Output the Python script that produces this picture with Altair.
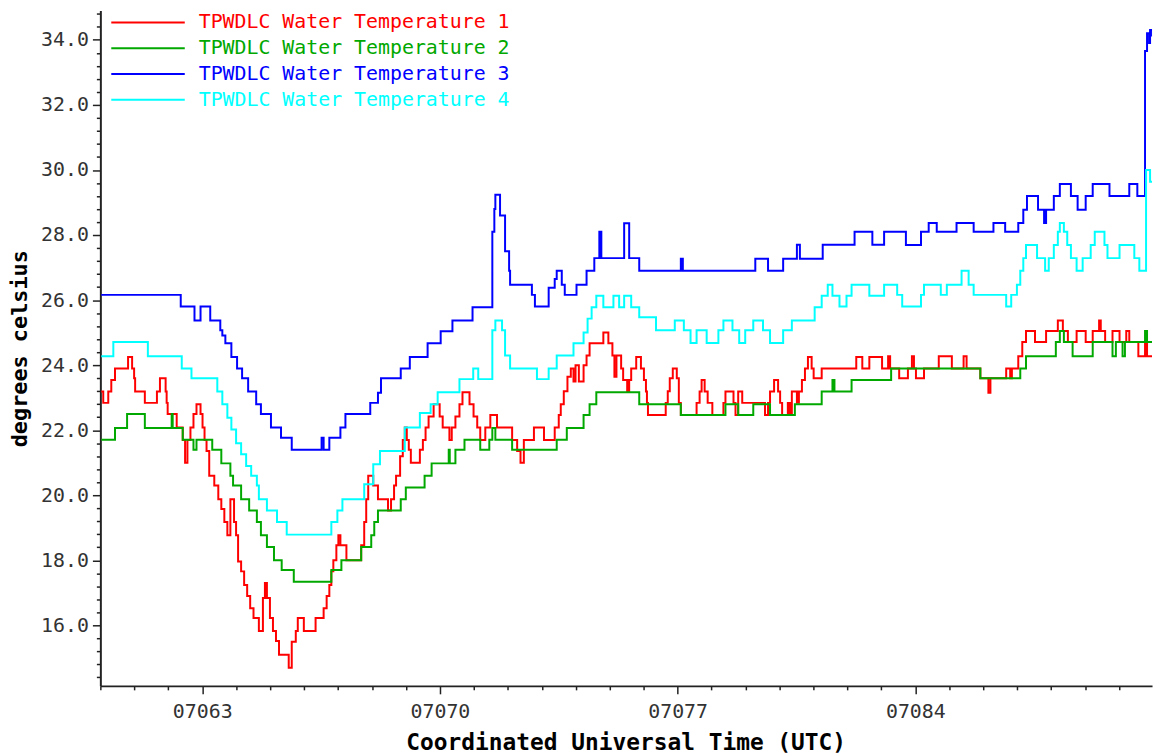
import altair as alt
import pandas as pd

# ---- data (day-of-year 2007, degrees Celsius), step-wise readings ----
names = ["TPWDLC Water Temperature 1", "TPWDLC Water Temperature 2",
         "TPWDLC Water Temperature 3", "TPWDLC Water Temperature 4"]
colors = ["#ff0000", "#00a800", "#0000ff", "#00ffff"]

# times below were read against a provisional day grid; DAY_SCALE / DAY_SHIFT convert to day-of-year
DAY_SCALE = 0.98773
DAY_SHIFT = 0.026

t1_day = [60.00, 60.06, 60.21, 60.30, 60.41, 60.80, 60.92, 60.98, 61.01, 61.30, 61.66, 61.75, 61.92, 61.95,
          61.98, 62.25, 62.43, 62.50, 62.57, 62.66, 62.75, 62.84, 62.96, 63.02, 63.08, 63.14, 63.22, 63.37,
          63.49, 63.58, 63.67, 63.76, 63.85, 63.96, 64.02, 64.08, 64.17, 64.26, 64.35, 64.44, 64.54, 64.70,
          64.82, 64.88, 64.94, 65.03, 65.12, 65.21, 65.30, 65.59, 65.68, 65.80, 65.86, 66.04, 66.39, 66.63,
          66.72, 66.80, 66.86, 66.92, 67.01, 67.07, 67.13, 67.31, 67.75, 67.84, 67.90, 67.96, 68.11, 68.25,
          68.55, 68.64, 68.73, 68.79, 68.91, 68.99, 69.05, 69.11, 69.17, 69.23, 69.50, 69.59, 69.67, 69.76,
          69.91, 70.09, 70.18, 70.38, 70.45, 70.56, 70.68, 70.77, 70.98, 71.10, 71.21, 71.30, 71.45, 71.60,
          71.80, 72.25, 72.40, 72.50, 72.60, 72.90, 73.20, 73.52, 73.64, 73.70, 73.79, 73.90, 74.00, 74.08,
          74.14, 74.24, 74.38, 74.47, 74.56, 74.97, 75.12, 75.24, 75.30, 75.36, 75.50, 75.56, 75.68, 75.74,
          75.80, 75.95, 76.09, 76.18, 76.24, 76.27, 76.30, 76.83, 76.89, 76.95, 77.04, 77.16, 77.22, 77.28,
          77.75, 77.84, 77.90, 77.99, 78.08, 78.22, 78.55, 78.61, 78.85, 78.91, 78.99, 79.11, 79.79, 79.88,
          79.94, 80.06, 80.18, 80.24, 80.30, 80.47, 80.53, 80.59, 80.74, 80.80, 80.89, 80.98, 81.07, 81.18,
          81.24, 81.48, 82.51, 82.69, 82.90, 83.28, 83.46, 83.52, 83.79, 84.05, 84.17, 84.23, 84.29, 84.53,
          84.97, 85.36, 85.71, 85.80, 86.21, 86.45, 86.51, 86.98, 87.10, 87.15, 87.34, 87.46, 87.57, 87.84,
          88.17, 88.52, 88.67, 88.82, 89.08, 89.35, 89.56, 89.75, 89.80, 89.93, 90.15, 90.36, 90.56, 90.65,
          90.92, 91.12, 91.18, 91.33]
t1_val = [23.19, 22.84, 23.19, 23.54, 23.90, 24.25, 23.90, 23.60, 23.19, 22.84, 23.19, 23.60, 23.19, 22.84,
          22.50, 22.08, 21.70, 21.00, 21.70, 22.08, 22.50, 22.80, 22.50, 22.08, 21.70, 21.36, 20.60, 20.30,
          19.88, 19.58, 19.18, 18.77, 19.88, 19.18, 18.77, 17.96, 17.66, 17.24, 16.90, 16.53, 16.23, 15.83,
          16.84, 17.30, 16.84, 16.23, 15.83, 15.52, 15.10, 14.70, 15.50, 15.83, 16.23, 15.83, 16.23, 16.53,
          16.90, 17.24, 17.66, 18.00, 18.46, 18.77, 18.46, 18.00, 18.46, 19.18, 19.88, 20.60, 20.30, 19.88,
          19.53, 19.88, 20.30, 20.60, 21.20, 21.70, 22.08, 21.70, 21.40, 21.00, 21.40, 21.70, 22.08, 22.42,
          22.80, 22.42, 22.08, 21.70, 22.08, 22.42, 22.80, 23.17, 22.80, 22.42, 22.08, 21.70, 22.08, 22.47,
          22.08, 21.70, 21.36, 21.00, 21.70, 22.08, 21.70, 22.08, 22.47, 22.80, 23.20, 23.64, 23.90, 23.50,
          24.00, 23.50, 24.00, 24.30, 24.67, 25.00, 24.67, 24.30, 23.64, 24.30, 23.90, 23.54, 23.19, 23.54,
          23.90, 24.25, 23.90, 23.54, 23.19, 22.84, 22.47, 22.84, 23.20, 23.60, 23.90, 23.60, 22.84, 22.47,
          22.84, 23.19, 23.54, 23.19, 22.84, 22.47, 22.84, 23.19, 22.84, 22.47, 23.19, 22.84, 22.47, 22.84,
          23.19, 23.54, 23.19, 22.84, 22.47, 22.84, 22.47, 23.19, 22.84, 23.19, 23.54, 23.90, 24.25, 23.90,
          23.60, 23.90, 24.25, 23.90, 24.25, 23.90, 24.27, 23.90, 23.60, 23.90, 24.27, 23.90, 23.60, 23.90,
          24.27, 23.90, 24.27, 23.90, 23.60, 23.15, 23.60, 23.90, 23.60, 23.90, 24.27, 24.71, 25.05, 24.71,
          25.05, 25.37, 25.05, 24.71, 25.05, 24.71, 25.05, 25.37, 25.05, 24.71, 25.05, 24.71, 25.05, 24.71,
          24.27, 24.71, 24.27, 24.27]

t2_day = [60.00, 60.41, 60.77, 61.30, 62.10, 62.13, 62.43, 62.75, 62.84, 63.31, 63.58, 63.85, 63.93, 64.17,
          64.41, 64.64, 64.76, 64.94, 65.15, 65.38, 65.74, 66.86, 67.16, 67.75, 68.05, 68.14, 68.25, 68.93,
          69.08, 69.64, 69.85, 70.36, 70.39, 70.56, 70.83, 71.30, 71.57, 71.66, 71.75, 72.25, 73.58, 73.88,
          74.38, 74.56, 74.76, 76.04, 77.28, 78.61, 78.99, 79.44, 79.94, 80.68, 81.48, 81.80, 81.86, 82.37,
          83.55, 86.21, 87.40, 87.57, 88.46, 88.58, 88.70, 88.96, 89.56, 90.15, 90.25, 90.45, 90.52, 91.12,
          91.18, 91.33]
t2_val = [21.71, 22.07, 22.50, 22.07, 22.50, 22.07, 21.71, 21.40, 21.71, 21.40, 20.98, 20.60, 20.30, 19.88,
          19.53, 19.18, 18.77, 18.41, 18.00, 17.70, 17.34, 17.70, 18.00, 18.41, 18.77, 19.18, 19.53, 19.88,
          20.24, 20.60, 20.98, 21.40, 20.98, 21.40, 21.71, 21.40, 21.71, 22.07, 21.71, 21.40, 21.71, 22.07,
          22.47, 22.80, 23.17, 22.80, 22.47, 22.80, 22.47, 22.80, 22.47, 22.80, 23.19, 23.54, 23.19, 23.54,
          23.90, 23.60, 23.90, 24.27, 24.71, 25.05, 24.71, 24.27, 24.71, 24.27, 24.71, 24.27, 24.71, 25.05,
          24.71, 24.71]

t3_day = [60.00, 62.37, 62.78, 62.96, 63.25, 63.55, 63.61, 63.70, 63.88, 64.05, 64.20, 64.38, 64.62, 64.76,
          65.06, 65.36, 65.68, 66.57, 66.63, 66.80, 67.13, 67.28, 68.02, 68.25, 68.34, 68.93, 69.20, 69.73,
          70.12, 70.47, 71.07, 71.66, 71.72, 71.75, 71.89, 72.04, 72.16, 72.19, 72.84, 72.93, 73.34, 73.52,
          73.58, 73.73, 73.82, 74.17, 74.47, 74.70, 74.85, 74.91, 75.59, 75.74, 76.04, 77.28, 77.34, 79.50,
          79.88, 80.33, 80.74, 80.83, 81.51, 82.46, 82.99, 83.34, 83.99, 84.44, 84.67, 84.91, 85.50, 86.01,
          86.60, 86.95, 87.34, 87.49, 87.60, 87.93, 88.11, 88.17, 88.40, 88.58, 88.91, 89.11, 89.35, 89.56,
          90.06, 90.65, 90.89, 91.12, 91.18, 91.24, 91.27, 91.33]
t3_val = [26.16, 25.80, 25.37, 25.80, 25.37, 25.07, 24.91, 24.67, 24.25, 23.90, 23.60, 23.19, 22.80, 22.50,
          22.08, 21.77, 21.40, 21.77, 21.40, 21.77, 22.08, 22.50, 22.84, 23.15, 23.60, 23.90, 24.25, 24.67,
          25.04, 25.37, 25.78, 28.10, 28.80, 29.24, 28.60, 27.50, 26.90, 26.47, 26.16, 25.80, 26.38, 26.65,
          26.90, 26.47, 26.16, 26.47, 26.90, 27.29, 28.10, 27.29, 28.36, 27.29, 26.90, 27.27, 26.90, 27.27,
          26.90, 27.27, 27.70, 27.27, 27.70, 28.10, 27.70, 28.10, 27.69, 28.10, 28.37, 28.10, 28.37, 28.10,
          28.37, 28.10, 28.37, 28.78, 29.20, 28.78, 28.37, 28.78, 29.20, 29.57, 29.20, 28.78, 29.20, 29.57,
          29.20, 29.57, 29.20, 33.66, 34.20, 33.90, 34.30, 34.10]

t4_day = [60.00, 60.36, 61.39, 62.40, 62.69, 63.46, 63.61, 63.76, 63.88, 64.02, 64.17, 64.32, 64.47, 64.64,
          64.70, 64.94, 65.24, 65.53, 66.86, 67.04, 67.19, 67.84, 68.11, 68.31, 69.05, 69.50, 69.82, 70.03,
          70.68, 71.09, 71.24, 71.66, 71.75, 71.95, 72.04, 72.19, 72.99, 73.34, 73.58, 74.08, 74.38, 74.50,
          74.62, 74.76, 74.97, 75.27, 75.44, 75.59, 75.80, 76.04, 76.54, 77.10, 77.37, 77.57, 77.75, 78.05,
          78.40, 78.55, 78.82, 79.02, 79.20, 79.44, 79.73, 79.94, 80.33, 80.59, 81.27, 81.48, 81.66, 81.80,
          82.01, 82.22, 82.37, 82.90, 83.34, 83.73, 83.88, 84.44, 84.53, 85.03, 85.21, 85.65, 85.86, 86.01,
          86.98, 87.13, 87.30, 87.40, 87.49, 87.57, 87.90, 88.14, 88.25, 88.40, 88.52, 88.58, 88.70, 88.80,
          88.91, 89.08, 89.26, 89.50, 89.62, 89.91, 90.00, 90.36, 90.80, 90.95, 91.15, 91.27, 91.33]
t4_val = [24.27, 24.71, 24.27, 23.90, 23.60, 23.19, 22.80, 22.38, 22.02, 21.60, 21.26, 20.90, 20.60, 20.30,
          19.88, 19.53, 19.18, 18.79, 19.18, 19.53, 19.88, 20.34, 20.95, 21.36, 22.08, 22.53, 22.80, 23.17,
          23.57, 23.90, 23.57, 25.07, 25.37, 25.07, 24.30, 23.90, 23.57, 23.90, 24.30, 24.67, 25.00, 25.43,
          25.78, 26.13, 25.78, 26.13, 25.78, 26.13, 25.78, 25.47, 25.07, 25.37, 25.07, 24.68, 25.07, 24.68,
          25.07, 25.37, 25.07, 24.68, 25.07, 25.37, 25.07, 24.68, 25.07, 25.37, 25.78, 26.13, 26.47, 26.13,
          25.80, 26.13, 26.47, 26.13, 26.47, 26.16, 25.80, 26.16, 26.47, 26.16, 26.47, 26.90, 26.47, 26.16,
          25.80, 26.16, 26.47, 26.90, 27.29, 27.69, 27.29, 26.90, 27.29, 27.69, 28.10, 28.37, 28.10, 27.69,
          27.29, 26.90, 27.29, 27.69, 28.10, 27.69, 27.29, 27.69, 27.29, 26.90, 30.00, 29.64, 29.64]

x_ticks = list(range(60, 91))          # daily ticks, labelled every 7 days
y_ticks = [round(14.4 + 0.4 * i, 1) for i in range(52)]

# ---- build table ----
rows = []
for name, days, vals in zip(names, [t1_day, t2_day, t3_day, t4_day], [t1_val, t2_val, t3_val, t4_val]):
    for d, v in zip(days, vals):
        rows.append({"series": name, "day": round(60 + DAY_SHIFT + (d - 60) * DAY_SCALE, 3), "temp": v})
df = pd.DataFrame(rows)
legend_df = pd.DataFrame({"series": names, "idx": list(range(len(names)))})

FONT = "DejaVu Sans Mono"
color_scale = alt.Scale(domain=names, range=colors)

lines = alt.Chart(df).mark_line(interpolate="step-after", strokeWidth=2, clip=True).encode(
    x=alt.X("day:Q",
            scale=alt.Scale(domain=[60, 90.97], nice=False, zero=False),
            axis=alt.Axis(values=x_ticks,
                          labelExpr="datum.value % 7 == 0 ? '070' + datum.value : ''",
                          tickSize={"condition": {"test": "datum.value % 7 == 0", "value": 8}, "value": 4},
                          labelOverlap=False, labelPadding=8,
                          title="Coordinated Universal Time (UTC)",
                          titleX=529, titleY=46, titleAlign="center", titleBaseline="top")),
    y=alt.Y("temp:Q",
            scale=alt.Scale(domain=[14.14, 34.9], nice=False, zero=False),
            axis=alt.Axis(values=y_ticks,
                          labelExpr="round(datum.value*10) % 20 == 0 ? format(datum.value, '.1f') : ''",
                          tickSize={"condition": {"test": "round(datum.value*10) % 20 == 0", "value": 8}, "value": 4},
                          labelOverlap=False, labelPadding=4,
                          title="degrees celsius",
                          titleX=-81, titleY=340, titleAngle=270, titleAlign="center",
                          titleBaseline="middle")),
    color=alt.Color("series:N", scale=color_scale, legend=None),
    detail="series:N",
)

leg_y = alt.Y("idx:Q", scale=alt.Scale(domain=[0, 3], range=[12, 89.7]), axis=None)
leg_rules = alt.Chart(legend_df).mark_rule(strokeWidth=2).encode(
    x=alt.value(11), x2=alt.value(85), y=leg_y,
    color=alt.Color("series:N", scale=color_scale, legend=None),
)
leg_text = alt.Chart(legend_df).mark_text(align="left", baseline="middle", font=FONT, fontSize=20).encode(
    x=alt.value(99), y=leg_y, text="series:N",
    color=alt.Color("series:N", scale=color_scale, legend=None),
)

chart = alt.layer(lines, leg_rules, leg_text).resolve_scale(y="independent").properties(
    width=1059, height=680,
    autosize=alt.AutoSizeParams(type="none"),
    padding={"left": 93, "top": 0, "right": 5, "bottom": 66},
    background="white",
).configure_view(stroke="transparent").configure_axis(
    grid=False,
    domainColor="#222", domainWidth=2,
    tickColor="#222", tickWidth=1.5,
    labelFont=FONT, labelFontSize=20, labelColor="#333",
    titleFont=FONT, titleFontWeight="bold", titleColor="#000",
).configure_axisX(titleFontSize=23).configure_axisY(titleFontSize=22)

chart.save("out.html", embed_options={"renderer": "svg", "actions": False})
